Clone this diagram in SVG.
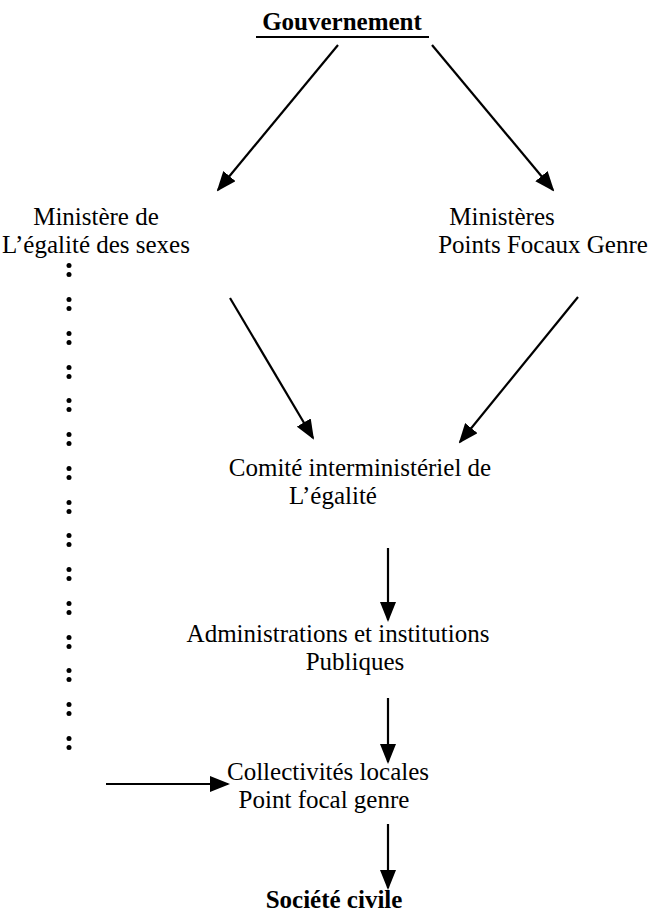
<svg xmlns="http://www.w3.org/2000/svg" width="672" height="916" viewBox="0 0 672 916">
<style>
text{font-family:"Liberation Serif","Times New Roman",serif;font-size:25px;fill:#000;text-anchor:middle}
.b{font-weight:bold}
.c{stroke:#000;stroke-width:2.2;fill:none;marker-end:url(#ah)}
.dot{fill:#000}
</style>
<defs>
<marker id="ah" markerUnits="userSpaceOnUse" markerWidth="20" markerHeight="16" refX="18" refY="8" orient="auto">
<path d="M0,0 L20,8 L0,16 z" fill="#000"/>
</marker>
<g id="colon"><circle cx="0" cy="-4.5" r="2.5" class="dot"/><circle cx="0" cy="4.5" r="2.5" class="dot"/></g>
</defs>
<rect width="672" height="916" fill="#fff"/>
<g id="gouvernement">
<text x="342" y="30" class="b" font-size="27">Gouvernement</text>
<line x1="256" y1="37" x2="429" y2="37" stroke="#000" stroke-width="2.2"/>
</g>
<g id="ministere-egalite">
<text x="96" y="225">Ministère de</text>
<text x="96" y="253">L’égalité des sexes</text>
</g>
<g id="ministeres-pfg">
<text x="502" y="225">Ministères</text>
<text x="543" y="253">Points Focaux Genre</text>
</g>
<g id="comite">
<text x="360" y="476">Comité interministériel de</text>
<text x="333" y="504">L’égalité</text>
</g>
<g id="administrations">
<text x="338" y="642">Administrations et institutions</text>
<text x="355" y="670">Publiques</text>
</g>
<g id="collectivites">
<text x="328" y="780">Collectivités locales</text>
<text x="324" y="808">Point focal genre</text>
</g>
<g id="societe">
<text x="334" y="908" class="b">Société civile</text>
</g>
<g id="dots">
<use href="#colon" x="69" y="270"/>
<use href="#colon" x="69" y="304"/>
<use href="#colon" x="69" y="338"/>
<use href="#colon" x="69" y="372"/>
<use href="#colon" x="69" y="405"/>
<use href="#colon" x="69" y="439"/>
<use href="#colon" x="69" y="473"/>
<use href="#colon" x="69" y="507"/>
<use href="#colon" x="69" y="540"/>
<use href="#colon" x="69" y="574"/>
<use href="#colon" x="69" y="608"/>
<use href="#colon" x="69" y="642"/>
<use href="#colon" x="69" y="675"/>
<use href="#colon" x="69" y="709"/>
<use href="#colon" x="69" y="743"/>
</g>
<g id="connectors">
<line class="c" x1="338" y1="45" x2="218" y2="190"/>
<line class="c" x1="432" y1="45" x2="553" y2="190"/>
<line class="c" x1="230" y1="298" x2="313" y2="438"/>
<line class="c" x1="578" y1="297" x2="460" y2="442"/>
<line class="c" x1="388" y1="548" x2="388" y2="620"/>
<line class="c" x1="388" y1="698" x2="388" y2="762"/>
<line class="c" x1="106" y1="784" x2="228" y2="784"/>
<line class="c" x1="388" y1="824" x2="388" y2="888"/>
</g>
</svg>
